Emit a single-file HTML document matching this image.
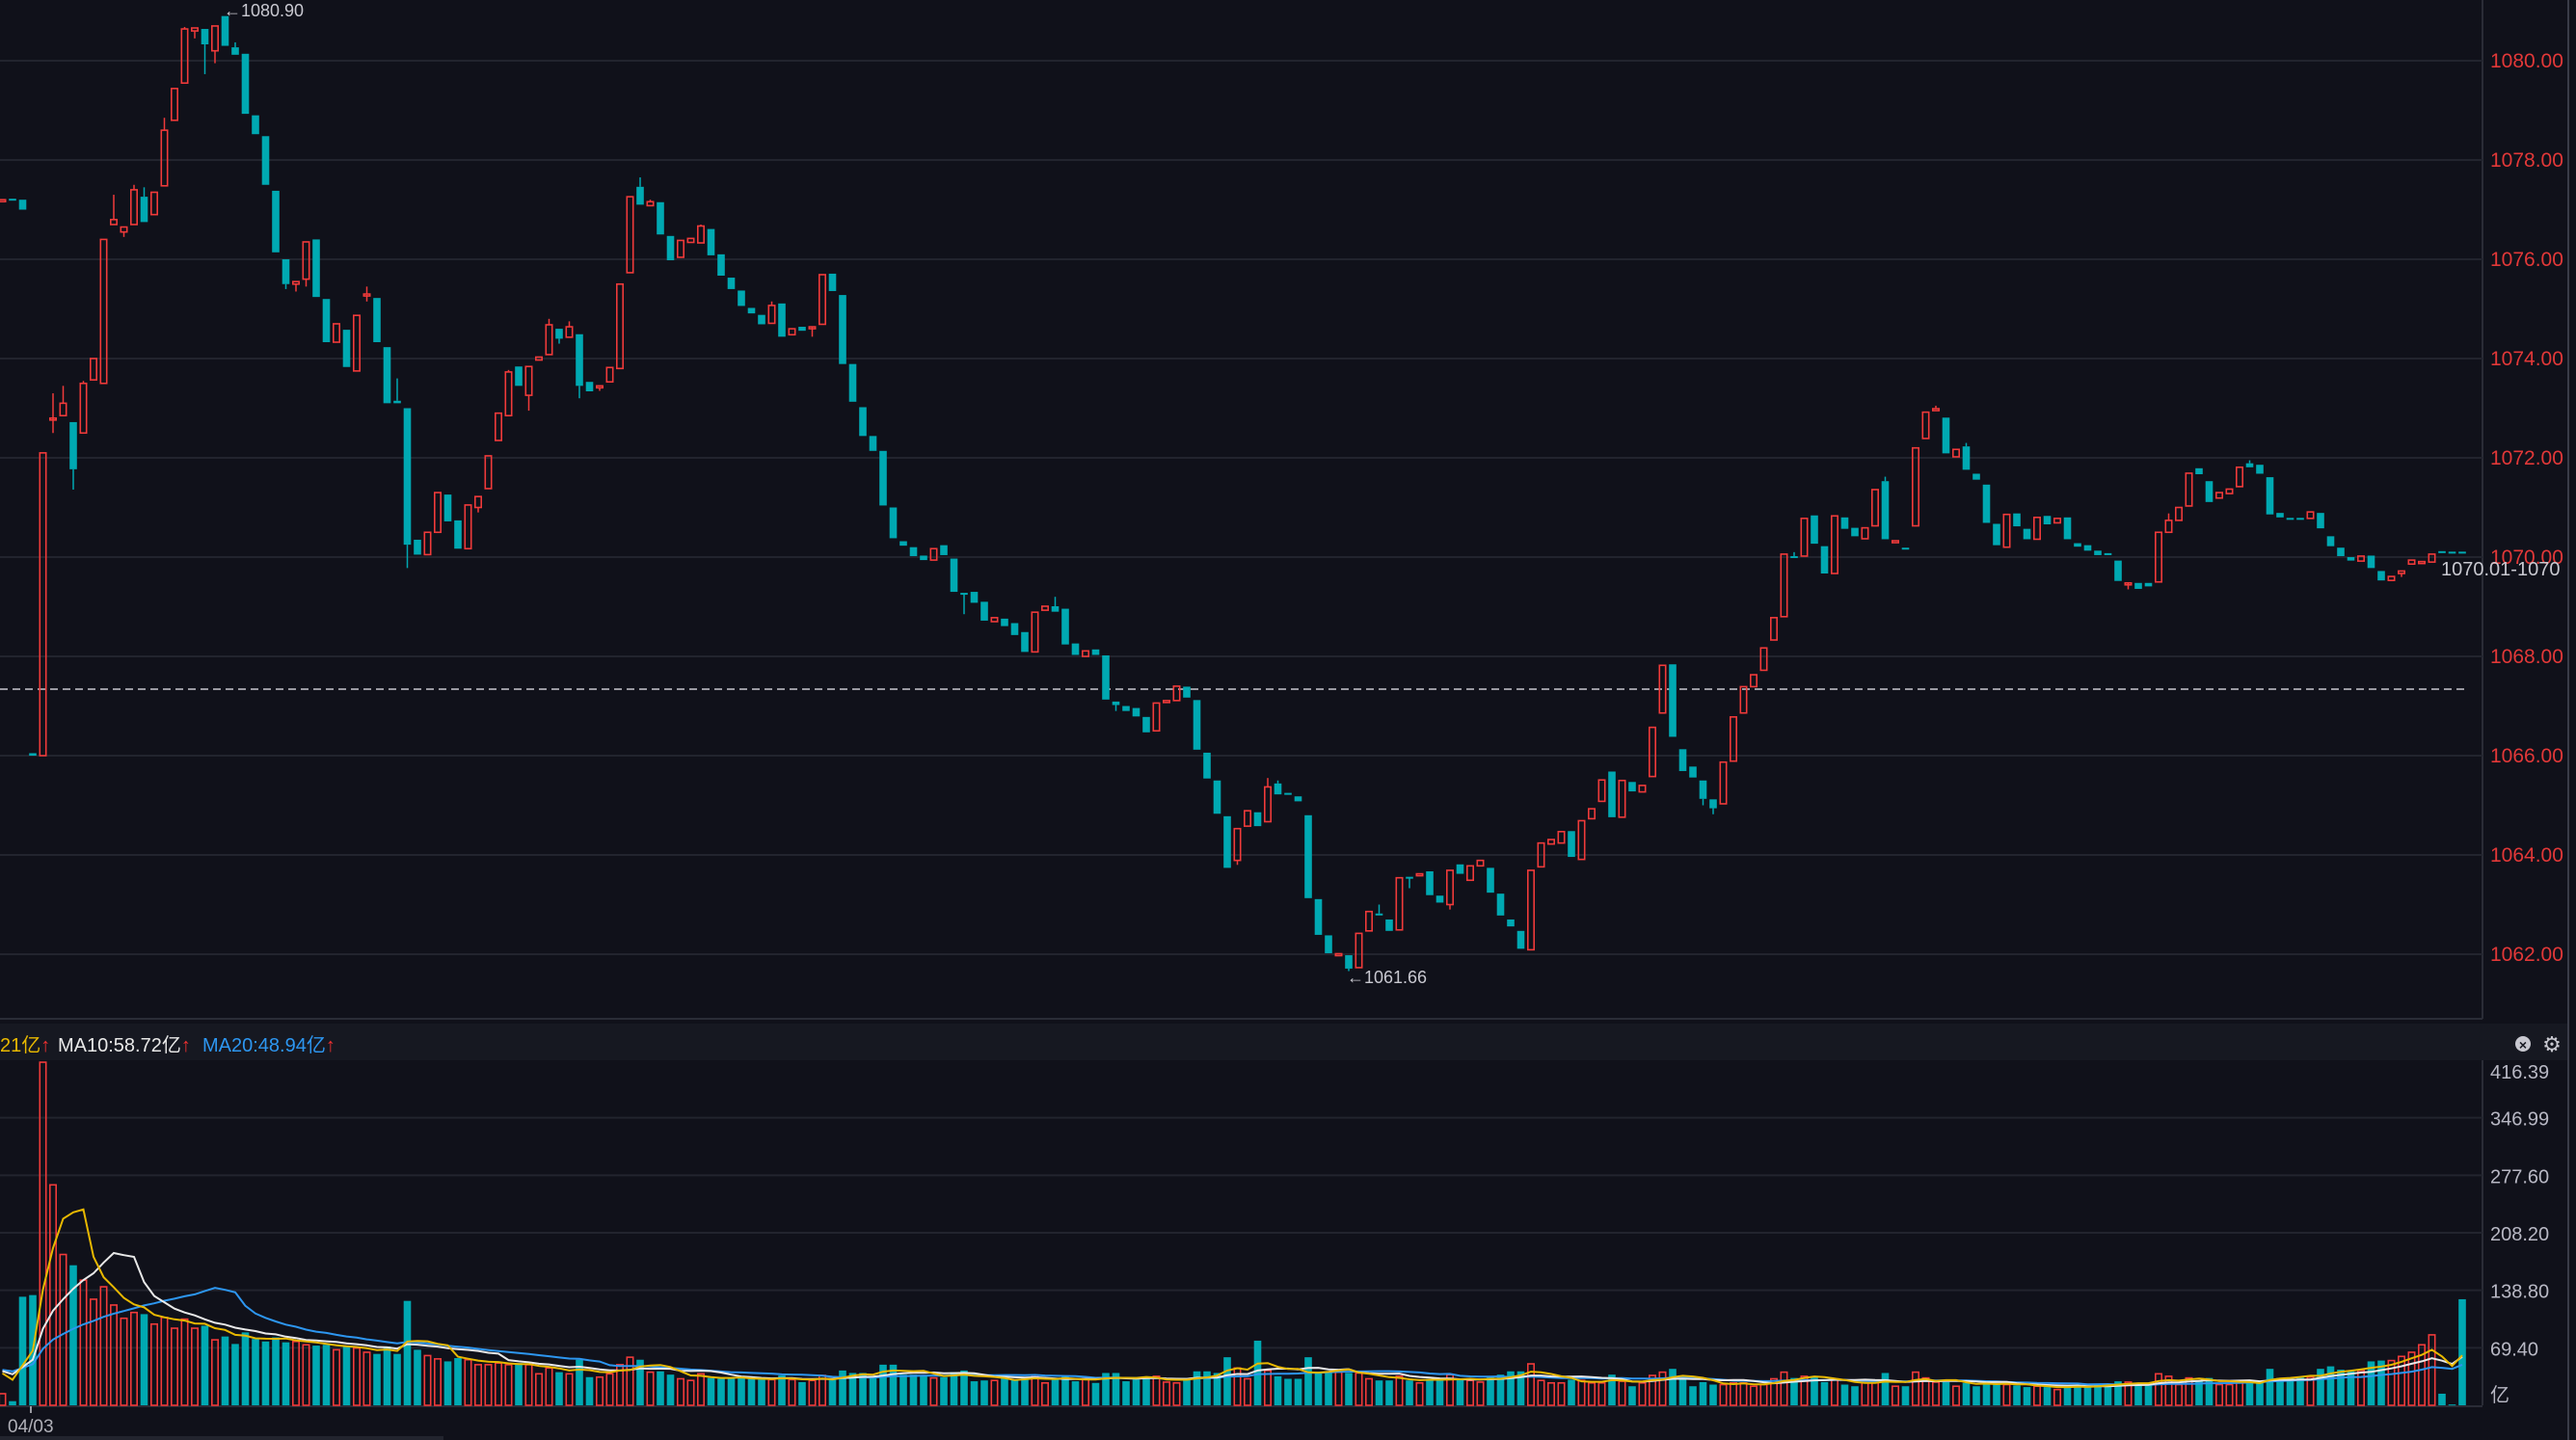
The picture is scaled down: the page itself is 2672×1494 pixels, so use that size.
<!DOCTYPE html>
<html><head><meta charset="utf-8">
<style>
html,body{margin:0;padding:0;background:#10111a;overflow:hidden}
svg{display:block}
text{font-family:"Liberation Sans","Noto Sans CJK SC",sans-serif}
</style></head>
<body>
<svg id="chart" width="2672" height="1494" viewBox="0 0 2672 1494" xmlns="http://www.w3.org/2000/svg">
<rect x="0" y="0" width="2672" height="1494" fill="#10111a"/>
<rect x="0" y="1062" width="2663" height="38" fill="#161821"/>
<line x1="0" y1="1057" x2="2575" y2="1057" stroke="#2a2c36" stroke-width="2"/>
<line x1="2575" y1="0" x2="2575" y2="1057" stroke="#2a2c36" stroke-width="2"/>
<line x1="2575" y1="1100" x2="2575" y2="1458" stroke="#2a2c36" stroke-width="2"/>
<line x1="0" y1="1459" x2="2575" y2="1459" stroke="#2a2c36" stroke-width="2"/>
<line x1="2664" y1="0" x2="2664" y2="1494" stroke="#3a3c48" stroke-width="2"/>
<g id="grid"></g>
<g id="vgrid"></g>
<line x1="0" y1="715" x2="2560" y2="715" stroke="#c8c8d0" stroke-width="1.5" stroke-dasharray="8,5"/>
<g id="candles"></g>
<g id="vols"></g>
<g id="malines"></g>
<g id="labels"></g>
<text x="232" y="17" fill="#c8c8d0" font-size="18">←1080.90</text>
<text x="1397" y="1020" fill="#c8c8d0" font-size="18">←1061.66</text>
<text x="2532" y="597" fill="#c8c8d0" font-size="20">1070.01-1070</text>
<text x="0" y="1091" fill="#e8b800" font-size="20">21亿<tspan fill="#f03030" font-weight="bold">↑</tspan></text>
<text x="60" y="1091" fill="#e8e8e8" font-size="20">MA10:58.72亿<tspan fill="#f03030" font-weight="bold">↑</tspan></text>
<text x="210" y="1091" fill="#2d96f0" font-size="20">MA20:48.94亿<tspan fill="#f03030" font-weight="bold">↑</tspan></text>
<g><circle cx="2617" cy="1083" r="8" fill="#c8c8d0"/><text x="2617" y="1089" fill="#161821" font-size="14" text-anchor="middle" font-weight="bold">×</text></g>
<text x="2647" y="1091" fill="#c8c8d0" font-size="22" text-anchor="middle">⚙</text>
<line x1="32" y1="1459" x2="32" y2="1466" stroke="#c8c8d0" stroke-width="1.5"/>
<text x="8" y="1486" fill="#b0b0b8" font-size="19">04/03</text>
<rect x="0" y="1490" width="460" height="4" fill="#22242e"/>
</svg>
<script>
var opens=[1077.2,1077.22,1077.2,1066.05,1066,1072.8,1072.85,1072.72,1072.5,1073.57,1073.5,1076.7,1076.55,1076.7,1077.26,1076.9,1077.48,1078.8,1079.55,1080.6,1080.64,1080.2,1080.9,1080.27,1080.14,1078.9,1078.48,1077.38,1076.0,1075.5,1075.6,1076.4,1075.2,1074.33,1074.58,1073.75,1075.28,1075.22,1074.23,1073.15,1073.0,1070.35,1070.05,1070.5,1071.26,1070.74,1070.17,1071.0,1071.38,1072.35,1072.85,1073.84,1073.26,1073.97,1074.08,1074.6,1074.43,1074.49,1073.53,1073.42,1073.53,1073.8,1075.73,1077.46,1077.08,1077.15,1076.47,
1076.04,1076.34,1076.33,1076.61,1076.1,1075.63,1075.37,1075.02,1074.88,1074.71,1075.11,1074.48,1074.64,1074.63,1074.69,1075.71,1075.28,1073.89,1073.02,1072.44,1072.14,1071.0,1070.32,1070.2,1070.03,1069.94,1070.24,1069.97,1069.28,1069.3,1069.1,1068.7,1068.76,1068.67,1068.49,1068.09,1068.93,1069.01,1068.96,1068.26,1068.0,1068.14,1068.02,1067.09,1067.0,1066.96,1066.78,1066.5,1067.1,1067.11,1067.39,1067.12,1066.06,1065.5,1064.78,1063.89,1064.58,1064.86,1064.67,1065.44,1065.25,1065.18,1064.8,1063.11,1062.38,1062.0,
1061.98,1061.73,1062.47,1062.82,1062.7,1062.49,1063.56,1063.61,1063.67,1063.18,1063.0,1063.81,1063.49,1063.78,1063.74,1063.22,1062.7,1062.47,1062.09,1063.76,1064.22,1064.24,1064.48,1063.91,1064.73,1065.08,1065.68,1064.76,1065.47,1065.27,1065.58,1066.86,1067.84,1066.13,1065.78,1065.5,1065.12,1065.03,1065.89,1066.86,1067.39,1067.72,1068.33,1068.8,1070.02,1070.02,1070.84,1070.22,1069.67,1070.8,1070.59,1070.37,1070.63,1071.53,1070.32,1070.19,1070.63,1072.39,1072.98,1072.81,1072.02,1072.23,1071.68,1071.46,1070.67,
1070.2,1070.88,1070.57,1070.36,1070.83,1070.69,1070.8,1070.28,1070.24,1070.13,1070.08,1069.93,1069.47,1069.48,1069.48,1069.5,1070.5,1070.74,1071.03,1071.79,1071.53,1071.19,1071.28,1071.42,1071.89,1071.86,1071.61,1070.89,1070.79,1070.79,1070.78,1070.89,1070.42,1070.19,1070.0,1069.92,1070.03,1069.72,1069.53,1069.67,1069.86,1069.9,1069.9,1070.12,1070.11,1070.11];
var closes=[1077.2,1077.2,1077.0,1066.0,1072.1,1072.8,1073.1,1071.77,1073.5,1074.0,1076.4,1076.8,1076.65,1077.4,1076.75,1077.35,1078.6,1079.44,1080.64,1080.66,1080.33,1080.7,1080.3,1080.12,1078.93,1078.52,1077.5,1076.14,1075.5,1075.55,1076.35,1075.24,1074.33,1074.7,1073.83,1074.87,1075.3,1074.33,1073.1,1073.1,1070.25,1070.05,1070.5,1071.3,1070.72,1070.17,1071.05,1071.22,1072.04,1072.9,1073.73,1073.45,1073.84,1074.03,1074.68,1074.4,1074.64,1073.45,1073.34,1073.45,1073.82,1075.5,1077.26,1077.1,1077.16,1076.5,1075.98,
1076.38,1076.42,1076.67,1076.08,1075.67,1075.4,1075.06,1074.91,1074.69,1075.07,1074.44,1074.6,1074.56,1074.64,1075.69,1075.36,1073.89,1073.13,1072.44,1072.14,1071.04,1070.38,1070.23,1070.02,1069.94,1070.17,1070.04,1069.3,1069.27,1069.08,1068.72,1068.78,1068.61,1068.43,1068.09,1068.89,1069.01,1068.9,1068.24,1068.03,1068.11,1068.03,1067.13,1067.02,1066.9,1066.79,1066.47,1067.06,1067.11,1067.4,1067.17,1066.12,1065.54,1064.83,1063.74,1064.53,1064.89,1064.58,1065.37,1065.22,1065.24,1065.08,1063.13,1062.39,1062.02,1062.01,
1061.71,1062.42,1062.86,1062.8,1062.47,1063.54,1063.54,1063.62,1063.19,1063.04,1063.69,1063.62,1063.78,1063.89,1063.24,1062.78,1062.56,1062.11,1063.69,1064.24,1064.31,1064.47,1063.96,1064.69,1064.93,1065.51,1064.76,1065.5,1065.28,1065.4,1066.57,1067.82,1066.38,1065.69,1065.56,1065.13,1064.94,1065.87,1066.78,1067.39,1067.63,1068.17,1068.78,1070.06,1070.01,1070.78,1070.27,1069.67,1070.83,1070.57,1070.42,1070.59,1071.36,1070.36,1070.33,1070.18,1072.2,1072.92,1072.99,1072.09,1072.17,1071.76,1071.56,1070.69,1070.24,
1070.86,1070.62,1070.36,1070.8,1070.66,1070.78,1070.36,1070.21,1070.13,1070.04,1070.04,1069.52,1069.48,1069.36,1069.41,1070.5,1070.74,1071.0,1071.69,1071.67,1071.11,1071.3,1071.37,1071.81,1071.81,1071.68,1070.86,1070.8,1070.78,1070.78,1070.91,1070.58,1070.22,1070.02,1069.93,1070.02,1069.78,1069.53,1069.61,1069.72,1069.94,1069.91,1070.06,1070.11,1070.1,1070.1];
var highWicks={5:1073.3,6:1073.45,8:1073.55,11:1077.3,13:1077.5,14:1077.45,16:1078.85,18:1080.68,23:1080.37,36:1075.45,39:1073.6,50:1073.77,54:1074.8,56:1074.75,63:1077.65,64:1077.2,69:1076.7,76:1075.15,104:1069.2,125:1065.55,126:1065.5,136:1063.0,177:1070.1,186:1071.62,191:1073.05,194:1072.3,214:1070.88,222:1071.95};
var lowWicks={5:1072.5,7:1071.36,12:1076.45,19:1080.45,20:1079.73,21:1079.95,28:1075.4,29:1075.35,30:1075.45,36:1075.15,40:1069.78,47:1070.9,52:1072.95,55:1074.3,57:1073.2,59:1073.35,80:1074.44,95:1068.85,110:1066.9,122:1063.8,133:1061.66,139:1063.33,143:1062.9,168:1065.0,169:1064.82,210:1069.35,237:1069.6};
var priorVolumes=[44,46,42,45,43,47,44,42,45,46,43,44,45,42,46,44,43,45,47];
var volumes=[14,5,131,133,414,266,182,169,151,128,143,121,105,112,110,98,106,93,104,93,96,79,83,74,88,80,77,82,76,77,73,72,73,67,71,69,64,62,71,62,126,67,60,56,53,57,55,49,49,51,49,51,49,38,45,40,38,55,34,34,38,49,58,55,40,41,37,
32,30,38,33,32,32,33,32,31,31,36,31,28,30,36,31,42,39,39,34,49,49,37,37,36,33,34,40,42,29,30,30,33,31,33,36,27,32,36,29,32,27,39,39,29,31,33,35,28,27,31,41,41,39,58,45,32,78,42,35,32,32,58,40,40,40,
39,39,32,30,30,35,30,27,32,30,37,31,30,28,34,37,41,41,50,30,27,27,31,30,27,27,37,29,23,27,36,40,44,31,23,28,25,25,27,27,23,25,32,40,33,35,34,28,31,25,23,28,28,39,23,23,40,33,28,28,23,27,23,30,25,
25,24,22,23,22,19,24,24,22,25,25,29,28,26,25,38,35,25,33,30,33,25,25,29,28,27,44,33,33,34,34,44,47,43,41,42,53,54,54,59,64,73,85,14,1,128];
var priceTicks=["1080.00","1078.00","1076.00","1074.00","1072.00","1070.00","1068.00","1066.00","1064.00","1062.00"];
var volTicks=["416.39","346.99","277.60","208.20","138.80","69.40"];
var NS="http://www.w3.org/2000/svg";
function xAt(i){return 2.5+10.5*i;}
function yP(p){return 63+(1080-p)*51.5;}
function yV(v){return 1458-v/416.39*358;}
function mk(tag,attrs,parent){var e=document.createElementNS(NS,tag);for(var k in attrs)e.setAttribute(k,attrs[k]);parent.appendChild(e);return e;}
var RED="#f03a3a",TEAL="#00a9b2";
var grid=document.getElementById('grid'),labels=document.getElementById('labels');
priceTicks.forEach(function(t){var p=parseFloat(t),y=yP(p);
 var l=mk('line',{x1:0,y1:y,x2:2575,y2:y,stroke:'#22242e','stroke-width':2},grid);
 
 
 var tx=mk('text',{x:2583,y:y+7,fill:'#e23838','font-size':21},labels);tx.textContent=t;
 
 
});
var vg=document.getElementById('vgrid');
volTicks.forEach(function(t,k){var v=parseFloat(t),y=yV(v);
 if(k>0){var l=mk('line',{x1:0,y1:y,x2:2575,y2:y,stroke:'#22242e','stroke-width':2},vg);
 
 }
 var tx=mk('text',{x:2583,y:(k==0?y+19:y+8),fill:'#b8b8c4','font-size':20},labels);tx.textContent=t;
 
 
});
var ut=mk('text',{x:2583,y:1454,fill:'#b8b8c4','font-size':20},labels);ut.textContent='亿';


var cg=document.getElementById('candles'),vgG=document.getElementById('vols');
for(var i=0;i<opens.length;i++){
 var o=opens[i],c=closes[i],up=c>=o,col=up?RED:TEAL,x=xAt(i);
 var hi=highWicks[i]!==undefined?highWicks[i]:Math.max(o,c),lo=lowWicks[i]!==undefined?lowWicks[i]:Math.min(o,c);
 var g=mk('g',{},cg);
 
 
 var yt=yP(Math.max(o,c)),yb=yP(Math.min(o,c));
 if(hi>Math.max(o,c))mk('line',{x1:x,y1:yP(hi),x2:x,y2:yt,stroke:col,'stroke-width':1.5},g);
 if(lo<Math.min(o,c))mk('line',{x1:x,y1:yb,x2:x,y2:yP(lo),stroke:col,'stroke-width':1.5},g);
 var h=Math.max(yb-yt,2);
 if(up)mk('rect',{x:x-3.2,y:yt,width:6.4,height:h,fill:'none',stroke:col,'stroke-width':1.6},g);
 else mk('rect',{x:x-3.8,y:yt,width:7.6,height:h,fill:col},g);
 var v=volumes[i],vy=yV(v);
 var b;
 if(up)b=mk('rect',{x:x-3.2,y:vy,width:6.4,height:Math.max(1458-vy,1),fill:'none',stroke:col,'stroke-width':1.6},vgG);
 else b=mk('rect',{x:x-3.8,y:vy,width:7.6,height:Math.max(1458-vy,1),fill:col},vgG);
 
 
}
var allVol=priorVolumes.concat(volumes),off=priorVolumes.length;
function ma(n){var pts=[];for(var i=0;i<volumes.length;i++){var s=0,k=0;var ii=i+off;for(var j=Math.max(0,ii-n+1);j<=ii;j++){s+=allVol[j];k++;}pts.push(xAt(i).toFixed(1)+','+yV(s/k).toFixed(1));}return pts.join(' ');}
var mg=document.getElementById('malines');
[[20,'#2d96f0','ma20-line'],[10,'#e8e8e8','ma10-line'],[5,'#e8b800','ma5-line']].forEach(function(d){
 var pl=mk('polyline',{points:ma(d[0]),fill:'none',stroke:d[1],'stroke-width':2},mg);
 
 
});
</script>
</body></html>
